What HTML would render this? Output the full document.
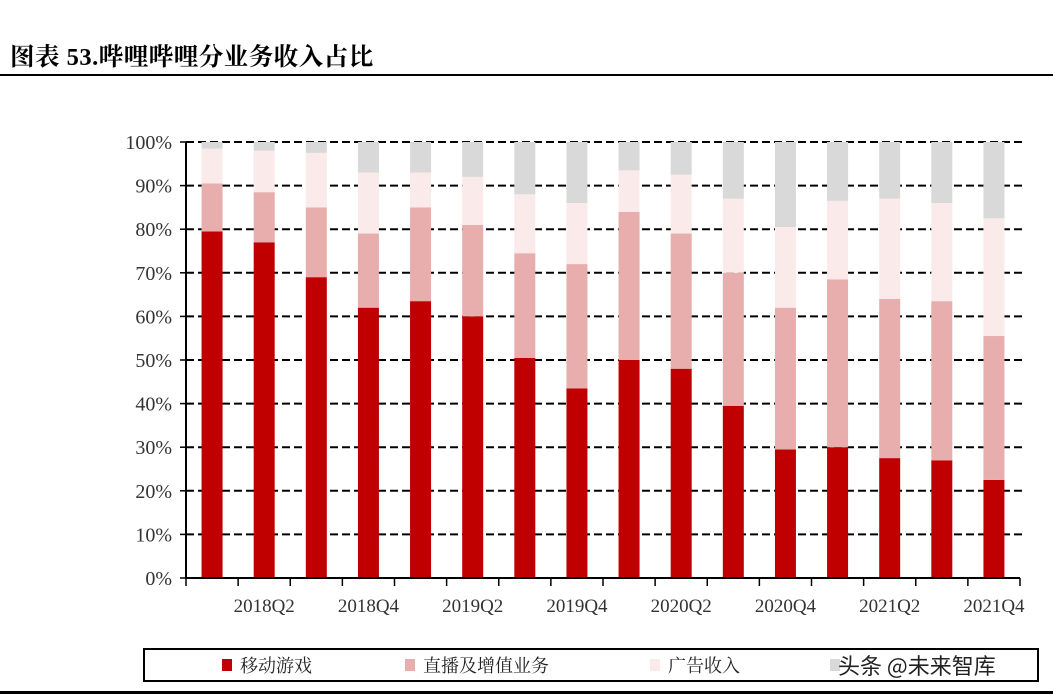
<!DOCTYPE html>
<html><head><meta charset="utf-8"><style>
body{margin:0;background:#fff;font-family:"Liberation Serif","Noto Serif CJK SC",serif;}
#wrap{position:relative;width:1053px;height:699px;overflow:hidden;}
</style></head><body>
<div id="wrap">
<div style="position:absolute;left:10px;top:38px;font:bold 24.5px 'Liberation Serif','Noto Serif CJK SC',serif;color:#000;letter-spacing:0.5px;">图表 53.哔哩哔哩分业务收入占比</div>
<div style="position:absolute;left:0;top:74px;width:1053px;height:2px;background:#000"></div>
<svg id="chart" width="1053" height="699" style="position:absolute;left:0;top:0"></svg>
<div style="position:absolute;left:0;top:691px;width:1053px;height:3px;background:#000"></div>
</div>
<script>
const categories=["2018Q1","2018Q2","2018Q3","2018Q4","2019Q1","2019Q2","2019Q3","2019Q4","2020Q1","2020Q2","2020Q3","2020Q4","2021Q1","2021Q2","2021Q3","2021Q4"];
const mobileGames=[79.5,77,69,62,63.5,60,50.5,43.5,50,48,39.5,29.5,30,27.5,27,22.5];
const liveVas=[11,11.5,16,17,21.5,21,24,28.5,34,31,30.5,32.5,38.5,36.5,36.5,33];
const advertising=[8,9.5,12.5,14,8,11,13.5,14,9.5,13.5,17,18.5,18,23,22.5,27];
const other=[1.5,2,2.5,7,7,8,12,14,6.5,7.5,13,19.5,13.5,13,14,17.5];
const yTicks=[0,10,20,30,40,50,60,70,80,90,100];
const seriesNames=["移动游戏","直播及增值业务","广告收入","其他"];
const colors=["#c00000","#e8adad","#fbeaea","#d9d9d9"];
const svg=document.getElementById('chart');const NS="http://www.w3.org/2000/svg";
function mk(t,a,p){const e=document.createElementNS(NS,t);for(const k in a)e.setAttribute(k,a[k]);(p||svg).appendChild(e);return e;}
const x0=186,x1=1020,y0=578,y1=142;
const step=(x1-x0)/categories.length;
function xc(i){return x0+step*(i+0.5);}
function yv(v){return y0-(y0-y1)*v/100;}
const bw=21;
yTicks.forEach(t=>{
 if(t>0){const g=mk('line',{x1:x0,x2:1025,y1:yv(t),y2:yv(t),stroke:'#000','stroke-width':2,'stroke-dasharray':'8,4'});
 
 }
 const tx=mk('text',{x:172,y:yv(t)+7,'text-anchor':'end','font-size':20,fill:'#333','font-family':'Liberation Serif, serif'});tx.textContent=t+'%';
 
 
 const tk=mk('line',{x1:180,x2:x0,y1:yv(t),y2:yv(t),stroke:'#000','stroke-width':1.5});
 
 
});
const series=[mobileGames,liveVas,advertising,other];
categories.forEach((c,i)=>{
 let cum=0;
 series.forEach((s,k)=>{
  const v=s[i];const r=mk('rect',{x:xc(i)-bw/2,y:yv(cum+v),width:bw,height:yv(cum)-yv(cum+v),fill:colors[k]});
  
  
  cum+=v;
 });
 if(i%2===1){const t=mk('text',{x:xc(i),y:612,'text-anchor':'middle','font-size':19,fill:'#333','font-family':'Liberation Serif, serif'});t.textContent=c;
 
 }
});
for(let i=0;i<=categories.length;i++){const l=mk('line',{x1:x0+step*i,x2:x0+step*i,y1:y0,y2:y0+8,stroke:'#000','stroke-width':1.5});
 
 }
const ya=mk('line',{x1:x0,x2:x0,y1:y1,y2:y0,stroke:'#000','stroke-width':2});


const xa=mk('line',{x1:x0,x2:x1,y1:y0,y2:y0,stroke:'#000','stroke-width':2});


const lb=mk('rect',{x:144,y:649,width:894,height:32,fill:'none',stroke:'#000','stroke-width':2});


const lx=[222,405,650,830];
seriesNames.forEach((n,k)=>{
 const r=mk('rect',{x:lx[k],y:659,width:10,height:12,fill:colors[k]});
 
 
 if(k<3){const t=mk('text',{x:lx[k]+18,y:672,'font-size':18,fill:'#222','font-family':'Noto Serif CJK SC, serif'});t.textContent=n;
 
 }
});
const wm=mk('text',{x:838,y:674,'font-size':22,fill:'#222','font-family':'Noto Sans CJK SC, sans-serif'});wm.textContent='头条 @未来智库';


</script>
</body></html>
